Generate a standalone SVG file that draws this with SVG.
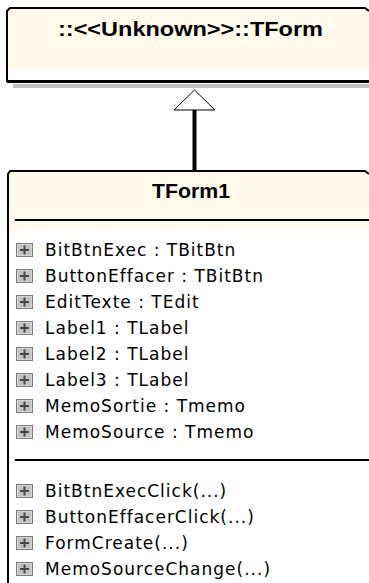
<svg xmlns="http://www.w3.org/2000/svg" width="369" height="583" viewBox="0 0 369 583">
<style>
.t{font-family:"Liberation Sans",Arial,sans-serif;font-weight:bold;font-size:20px;fill:#000;text-anchor:middle}
.m{font-family:"DejaVu Sans","Liberation Sans",sans-serif;font-size:17px;fill:#000;letter-spacing:1px}
.sep{stroke:#000;stroke-width:2;fill:none}
</style>
<defs>
<g id="plus">
<rect x="0.5" y="0.5" width="16" height="13" fill="#d6d6d6" stroke="#7c7c7c"/>
<rect x="2" y="2" width="13" height="10" fill="#c2c2c2"/>
<rect x="7.5" y="2.5" width="2" height="9" fill="#484848"/>
<rect x="4" y="6" width="9" height="2" fill="#484848"/>
</g>
</defs>
<rect width="369" height="583" fill="#fff"/>
<g id="node-tform">
<rect x="13" y="84" width="356" height="4" fill="#c0c0c0"/>
<path d="M7,11 L10,8 H365 L369,11 V80 H7 Z" fill="#fffaeb"/>
<rect x="9" y="68" width="360" height="12" fill="#fff"/>
<path d="M7,82 V11 L10,8 H365 L369,11" fill="none" stroke="#000" stroke-width="2"/>
<rect x="7" y="80" width="362" height="3" fill="#000"/>
<text class="t" x="190.5" y="36" textLength="265" lengthAdjust="spacingAndGlyphs">::&lt;&lt;Unknown&gt;&gt;::TForm</text>
</g>
<g id="connectors">
<rect x="192.5" y="110" width="4" height="61" fill="#000"/>
<polygon points="194.5,90 174,110 215,110" fill="#fff" stroke="#000" stroke-width="1"/>
</g>
<g id="node-tform1">
<path d="M7,174 L10,171 H365 L369,174 V230 H7 Z" fill="#fffaeb"/>
<path d="M8,583 V174 L10,171 H365 L369,174" fill="none" stroke="#000" stroke-width="2"/>
<text class="t" x="191" y="198" textLength="78" lengthAdjust="spacingAndGlyphs">TForm1</text>
<line class="sep" x1="15" y1="220" x2="369" y2="220"/>
<use href="#plus" x="16" y="243"/>
<text class="m" x="45" y="256">BitBtnExec : TBitBtn</text>
<use href="#plus" x="16" y="269"/>
<text class="m" x="45" y="282">ButtonEffacer : TBitBtn</text>
<use href="#plus" x="16" y="295"/>
<text class="m" x="45" y="308">EditTexte : TEdit</text>
<use href="#plus" x="16" y="321"/>
<text class="m" x="45" y="334">Label1 : TLabel</text>
<use href="#plus" x="16" y="347"/>
<text class="m" x="45" y="360">Label2 : TLabel</text>
<use href="#plus" x="16" y="373"/>
<text class="m" x="45" y="386">Label3 : TLabel</text>
<use href="#plus" x="16" y="399"/>
<text class="m" x="45" y="412">MemoSortie : Tmemo</text>
<use href="#plus" x="16" y="425"/>
<text class="m" x="45" y="438">MemoSource : Tmemo</text>
<line class="sep" x1="15" y1="460" x2="369" y2="460"/>
<use href="#plus" x="16" y="484"/>
<text class="m" x="45" y="497">BitBtnExecClick(...)</text>
<use href="#plus" x="16" y="510"/>
<text class="m" x="45" y="523">ButtonEffacerClick(...)</text>
<use href="#plus" x="16" y="536"/>
<text class="m" x="45" y="549">FormCreate(...)</text>
<use href="#plus" x="16" y="562"/>
<text class="m" x="45" y="575">MemoSourceChange(...)</text>
</g>
</svg>
